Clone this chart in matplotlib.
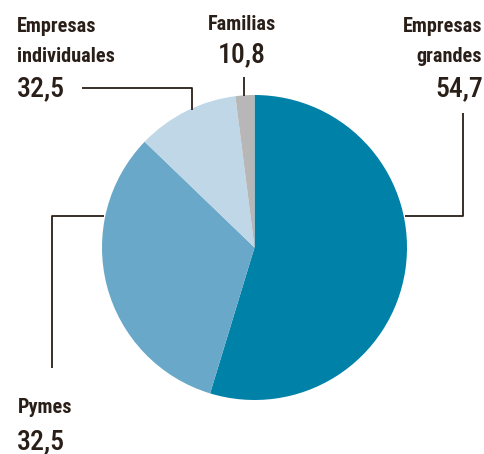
import matplotlib
matplotlib.use("Agg")
import matplotlib.pyplot as plt

categories = ["Empresas grandes", "Pymes", "Empresas individuales", "Familias"]
shares = [54.7, 32.5, 10.8, 2.0]
label_values = [54.7, 32.5, 32.5, 10.8]
colors = ["#0081a7", "#69a8c8", "#bfd7e7", "#b7b7b7"]

TXT = "#2a1f18"
plt.rcParams['font.family'] = ['Roboto Condensed', 'DejaVu Sans']

W, H = 485, 454
fig = plt.figure(figsize=(W / 100, H / 100), dpi=100)
ax = fig.add_axes([0, 0, 1, 1])

def Y(y):
    return H - y

cx, cy, r = 254.5, 247.5, 152.5
ax.pie(shares, colors=colors, startangle=90, counterclock=False,
       center=(cx, Y(cy)), radius=r, frame=True,
       wedgeprops=dict(linewidth=0))
ax.set_xlim(0, W)
ax.set_ylim(0, H)
ax.set_aspect('equal')
ax.axis('off')

def fmt(v):
    return f"{v:.1f}".replace(".", ",")

lab_kw = dict(fontsize=14.6, fontweight='bold', color=TXT, va='baseline')
num_kw = dict(fontsize=20, fontweight=500, color=TXT, va='baseline')

# Empresas individuales (top-left)
ax.text(17, Y(31.5), "Empresas", ha='left', **lab_kw)
ax.text(17, Y(62), "individuales", ha='left', **lab_kw)
ax.text(17, Y(96.5), fmt(label_values[2]), ha='left', **num_kw)

# Familias (top-center)
ax.text(242, Y(30.5), "Familias", ha='center', **lab_kw)
ax.text(241.5, Y(62.5), fmt(label_values[3]), ha='center', **num_kw)

# Empresas grandes (top-right)
ax.text(482, Y(31.5), "Empresas", ha='right', **lab_kw)
ax.text(482, Y(61.5), "grandes", ha='right', **lab_kw)
ax.text(483, Y(96.5), fmt(label_values[0]), ha='right', **num_kw)

# Pymes (bottom-left)
ax.text(18, Y(413), "Pymes", ha='left', **lab_kw)
ax.text(17, Y(449.5), fmt(label_values[1]), ha='left', **num_kw)

lw = 1.3
ax.plot([82, 192, 192], [Y(88), Y(88), Y(110)], color=TXT, lw=lw, solid_capstyle='butt')
ax.plot([244, 244], [Y(77), Y(96)], color=TXT, lw=lw, solid_capstyle='butt')
ax.plot([463, 463, 405], [Y(113), Y(216), Y(216)], color=TXT, lw=lw, solid_capstyle='butt')
ax.plot([104, 52, 52], [Y(216), Y(216), Y(368)], color=TXT, lw=lw, solid_capstyle='butt')

fig.savefig("out.png", dpi=100)
